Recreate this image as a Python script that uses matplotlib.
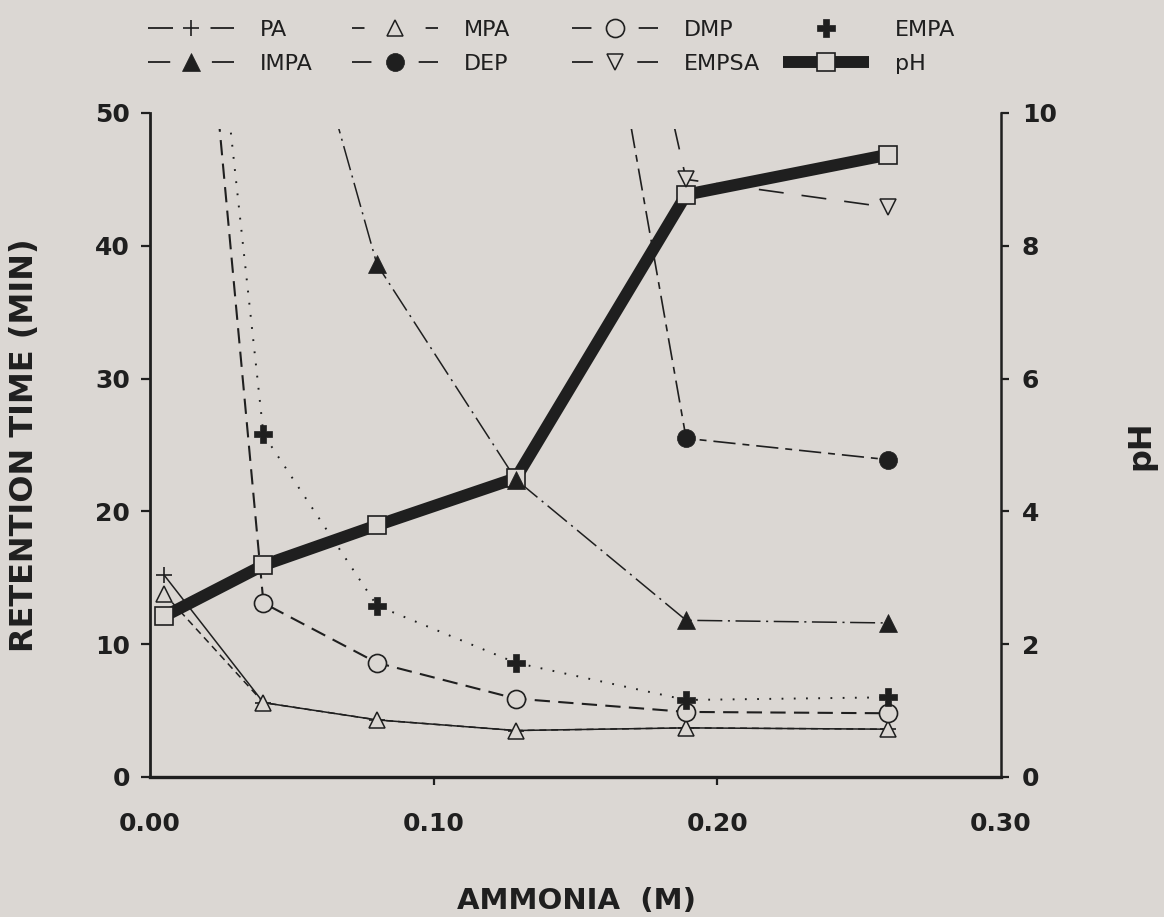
import numpy as np
import matplotlib
matplotlib.use("Agg")
import matplotlib.pyplot as plt
from matplotlib.lines import Line2D
from matplotlib.patches import Rectangle

plt.rcParams['font.family'] = ['DejaVu Sans']
plt.rcParams['lines.scale_dashes'] = False

# ammonia concentration (M)
ammonia = [0.005, 0.040, 0.080, 0.129, 0.189, 0.260]

pa = [15.2, 5.6, 4.3, 3.5, 3.7, 3.6]
mpa = [13.8, 5.6, 4.3, 3.5, 3.7, 3.6]
dmp = [94.0, 13.1, 8.6, 5.9, 4.9, 4.8]
empa = [95.0, 25.8, 12.9, 8.6, 5.8, 6.0]
impa = [np.nan, 69.0, 38.6, 22.4, 11.8, 11.6]
dep = [np.nan, np.nan, np.nan, 98.0, 25.5, 23.9]
empsa = [np.nan, np.nan, np.nan, 102.0, 45.0, 42.9]

# eluent pH
ph = [2.42, 3.19, 3.79, 4.50, 8.77, 9.37]

x_ticks = [0.0, 0.1, 0.2, 0.3]
x_tick_labels = ["0.00", "0.10", "0.20", "0.30"]
rt_ticks = [0, 10, 20, 30, 40, 50]
ph_ticks = [0, 2, 4, 6, 8, 10]

PAPER = "#dbd7d3"
INK = "#1f1f1f"
W, H = 1164, 917

# name -> line and marker style
styles = {
    "PA": dict(y=pa, dashes=None, lw=1.1, marker="+", ms=12, fill=False, mew=1.2),
    "MPA": dict(y=mpa, dashes=(5, 3.5), lw=1.1, marker="^", ms=12, fill=False, mew=1.1),
    "DMP": dict(y=dmp, dashes=(11, 6), lw=1.5, marker="o", ms=13, fill=False, mew=1.2),
    "EMPA": dict(y=empa, dashes=(1.3, 7.5), lw=1.4, marker="P", ms=13, fill=True, mew=0.5),
    "IMPA": dict(y=impa, dashes=(18, 4, 1.5, 4), lw=1.1, marker="^", ms=13, fill=True, mew=0.5),
    "DEP": dict(y=dep, dashes=(16, 5, 5, 5), lw=1.2, marker="o", ms=13, fill=True, mew=0.5),
    "EMPSA": dict(y=empsa, dashes=(18, 13), lw=1.2, marker="v", ms=12, fill=False, mew=1.1),
}

# legend: (left edge px, [(label, dash pattern of the sample)])
legend_cols = [
    (148, [("PA", (18, 27)), ("IMPA", (16, 30))]),
    (352, [("MPA", (9, 44)), ("DEP", (14, 34))]),
    (572, [("DMP", (14, 34)), ("EMPSA", (15, 32))]),
    (783, [("EMPA", None), ("pH", None)]),
]


def plot_series(ax, clip, st):
    line, = ax.plot(ammonia, st["y"], color=INK, lw=st["lw"], zorder=2)
    if st["dashes"]:
        line.set_dashes(st["dashes"])
    pts, = ax.plot(ammonia, st["y"], ls="none", marker=st["marker"], ms=st["ms"],
                   mfc=INK if st["fill"] else PAPER, mec=INK, mew=st["mew"], zorder=4)
    line.set_clip_path(clip)
    pts.set_clip_path(clip)


def legend_handle(name, dashes):
    if name == "pH":
        return Line2D([], [], color=INK, lw=8.6, marker="s", ms=13, mfc=PAPER,
                      mec=INK, mew=1.2, solid_capstyle="butt")
    st = styles[name]
    h = Line2D([], [], color=INK, lw=1.3, marker=st["marker"], ms=st["ms"],
               mfc=INK if st["fill"] else PAPER, mec=INK, mew=st["mew"])
    if dashes is None:
        h.set_linestyle("none")
    else:
        h.set_dashes(dashes)
    return h


def main():
    fig = plt.figure(figsize=(W / 100, H / 100), dpi=100, facecolor=PAPER)
    ax = fig.add_axes([150 / W, 1 - 777 / H, 851 / W, 664 / H])
    ax.set_facecolor(PAPER)
    ax2 = ax.twinx()

    ax.set_xlim(0, 0.30)
    ax.set_ylim(0, 50)
    ax2.set_ylim(0, 10)

    # lines stop a little below the top of the frame
    clip = Rectangle((0, 0), 0.30, 48.8, transform=ax.transData)
    for name in styles:
        plot_series(ax, clip, styles[name])

    # pH on the right scale, drawn over the thin lines but under their markers
    ax.plot(ammonia, ph, transform=ax2.transData, color=INK, lw=8.6,
            solid_capstyle="butt", solid_joinstyle="miter",
            marker="s", ms=13, mfc=PAPER, mec=INK, mew=1.2, zorder=3)

    # spines
    for s in ["top", "right"]:
        ax.spines[s].set_visible(False)
    for s in ["top", "left", "bottom"]:
        ax2.spines[s].set_visible(False)
    ax.spines["left"].set_linewidth(2.0)
    ax.spines["bottom"].set_linewidth(2.4)
    ax2.spines["right"].set_linewidth(1.8)
    for sp in list(ax.spines.values()) + list(ax2.spines.values()):
        sp.set_color(INK)

    # ticks
    ax.set_xticks(x_ticks)
    ax.set_xticklabels(x_tick_labels)
    ax.set_yticks(rt_ticks)
    ax2.set_yticks(ph_ticks)
    ax.tick_params(axis="x", direction="out", length=6, width=1.6, pad=19,
                   labelsize=18, colors=INK)
    ax.tick_params(axis="y", direction="out", length=6.5, width=1.6, pad=8,
                   labelsize=18, colors=INK)
    ax2.tick_params(axis="y", direction="out", length=6, width=1.6, pad=9,
                    labelsize=18, colors=INK)
    for t in [ax.xaxis.get_major_ticks()[0], ax.xaxis.get_major_ticks()[-1]]:
        t.tick1line.set_visible(False)
    for lab in ax.get_xticklabels() + ax.get_yticklabels() + ax2.get_yticklabels():
        lab.set_fontweight("bold")

    # axis titles
    ax.set_ylabel("RETENTION TIME (MIN)", fontsize=23, fontweight="bold", color=INK)
    ax.yaxis.set_label_coords(-0.129, 0.5)
    ax.set_xlabel("AMMONIA  (M)", fontsize=21, fontweight="bold", color=INK,
                  va="baseline")
    ax.xaxis.set_label_coords(0.5006, -0.199)
    ax2.set_ylabel("pH", fontsize=23, fontweight="bold", color=INK)
    ax2.yaxis.set_label_coords(1.146, 0.5)

    # legend, one column at a time
    for left, entries in legend_cols:
        handles = [legend_handle(n, d) for n, d in entries]
        labels = [n for n, d in entries]
        leg = fig.legend(handles, labels, loc="upper left",
                         bbox_to_anchor=(left / W, 1 - 20 / H),
                         bbox_transform=fig.transFigure, frameon=False,
                         fontsize=16, handlelength=3.87, handletextpad=1.17,
                         labelspacing=0.63, borderpad=0, borderaxespad=0)
        for txt in leg.get_texts():
            txt.set_color(INK)

    fig.savefig("out.png", dpi=100, facecolor=PAPER)


if __name__ == "__main__":
    main()
